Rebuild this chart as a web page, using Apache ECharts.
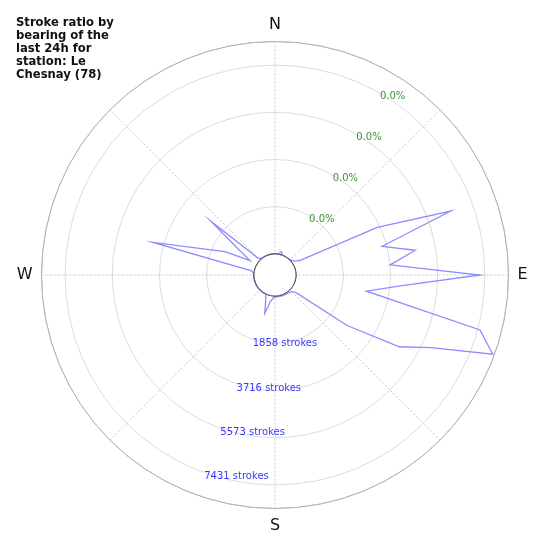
<!DOCTYPE html>
<html><head><meta charset="utf-8">
<script src="https://cdn.jsdelivr.net/npm/echarts@6/dist/echarts.min.js"></script>
<style>html,body{margin:0;padding:0;background:#fff}#c{width:550px;height:550px}</style>
</head><body><div id="c"></div>
<script>
const titleLines = ['Stroke ratio by', 'bearing of the', 'last 24h for', 'station: Le', 'Chesnay (78)'];
const bearings = [0, 5, 10, 15, 20, 25, 30, 35, 40, 45, 50, 55, 60, 65, 70, 75, 80, 85,
  90, 95, 100, 105, 110, 115, 120, 125, 130, 135, 140, 145, 150, 155, 160, 165, 170, 175,
  180, 185, 190, 195, 200, 205, 210, 215, 220, 225, 230, 235, 240, 245, 250, 255, 260, 265,
  270, 275, 280, 285, 290, 295, 300, 305, 310, 315, 320, 325, 330, 335, 340, 345, 350, 355];
const strokes = [10, 10, 25, 120, 20, 5, 5, 5, 5, 15, 60, 130, 320, 3615, 6534, 3537, 4780, 3718,
  7239, 4119, 2829, 7522, 8290, 5940, 4819, 2640, 256, 102, 60, 50, 50, 40, 40, 40, 40, 30,
  40, 95, 245, 735, 250, 10, 5, 10, 15, 15, 15, 15, 15, 15, 15, 15, 15, 15,
  20, 20, 110, 4135, 2184, 1345, 303, 893, 2467, 102, 30, 20, 15, 15, 15, 15, 15, 15];
const radialMax = 8360;
const radialInterval = 1857.75;
const radialTicks = [1857.75, 3715.5, 5573.25, 7431];
const strokeTickLabels = ['1858 strokes', '3716 strokes', '5573 strokes', '7431 strokes'];
const ratioTickLabels = ['0.0%', '0.0%', '0.0%', '0.0%'];
const strokeLabelBearing = 200;
const ratioLabelBearing = 30;
const cardinalAngles = [0, 90, 180, 270];
const cardinalLabels = ['N', 'E', 'S', 'W'];

const FONT = 'DejaVu Sans';
const lineData = bearings.map((b, i) => [strokes[i], b]);
lineData.push([strokes[0], 360]);
const holeData = bearings.map(b => [0, b]);
holeData.push([0, 360]);

const chart = echarts.init(document.getElementById('c'), null, {renderer: 'canvas'});
chart.setOption({
  animation: false,
  backgroundColor: '#ffffff',
  title: {
    text: titleLines.join('\n'),
    left: 16, top: 16, padding: 0,
    textStyle: {fontSize: 11.6, fontWeight: 'bold', fontFamily: FONT, lineHeight: 13, color: '#111'}
  },
  polar: {center: ['50%', '50%'], radius: [21, 233.5]},
  angleAxis: {
    type: 'value', min: 0, max: 360, interval: 45, startAngle: 90, clockwise: true,
    axisLine: {show: true, lineStyle: {color: '#b0b0b0', width: 0.8}},
    axisTick: {show: false},
    axisLabel: {
      show: true, margin: 9, fontSize: 16, fontFamily: FONT, color: '#111',
      formatter: v => { const k = cardinalAngles.indexOf(v); return k >= 0 ? cardinalLabels[k] : ''; }
    },
    splitLine: {show: true, lineStyle: {color: '#bdbdbd', width: 0.8, type: [2, 2]}}
  },
  radiusAxis: {
    type: 'value', min: 0, max: radialMax, interval: radialInterval,
    axisLine: {show: false}, axisTick: {show: false}, axisLabel: {show: false},
    splitLine: {show: true, lineStyle: {color: ['#333', '#d2d2d2', '#d2d2d2', '#d2d2d2', '#d2d2d2', '#b0b0b0'], width: 0.8}}
  },
  series: [
    {
      type: 'line', coordinateSystem: 'polar', data: lineData, symbol: 'none', z: 3,
      lineStyle: {color: '#8c8cff', width: 1.3, join: 'miter', miterLimit: 20}
    },
    {
      type: 'line', coordinateSystem: 'polar', data: holeData, symbol: 'none', z: 4, silent: true,
      lineStyle: {color: '#222', width: 1}
    },
    {
      type: 'scatter', coordinateSystem: 'polar', symbolSize: 1, z: 5, silent: true,
      itemStyle: {color: 'rgba(0,0,0,0)'},
      data: radialTicks.map(t => [t, ratioLabelBearing]),
      label: {
        show: true, position: 'inside', align: 'left', verticalAlign: 'middle', offset: [0, 3],
        fontSize: 10, fontFamily: FONT, color: '#007a00',
        formatter: p => ratioTickLabels[p.dataIndex]
      }
    },
    {
      type: 'scatter', coordinateSystem: 'polar', symbolSize: 1, z: 5, silent: true,
      itemStyle: {color: 'rgba(0,0,0,0)'},
      data: radialTicks.map(t => [t, strokeLabelBearing]),
      label: {
        show: true, position: 'inside', align: 'left', verticalAlign: 'middle', offset: [1, 4.5],
        fontSize: 10, fontFamily: FONT, color: '#0000ff',
        formatter: p => strokeTickLabels[p.dataIndex]
      }
    }
  ]
});
</script>
</body></html>
